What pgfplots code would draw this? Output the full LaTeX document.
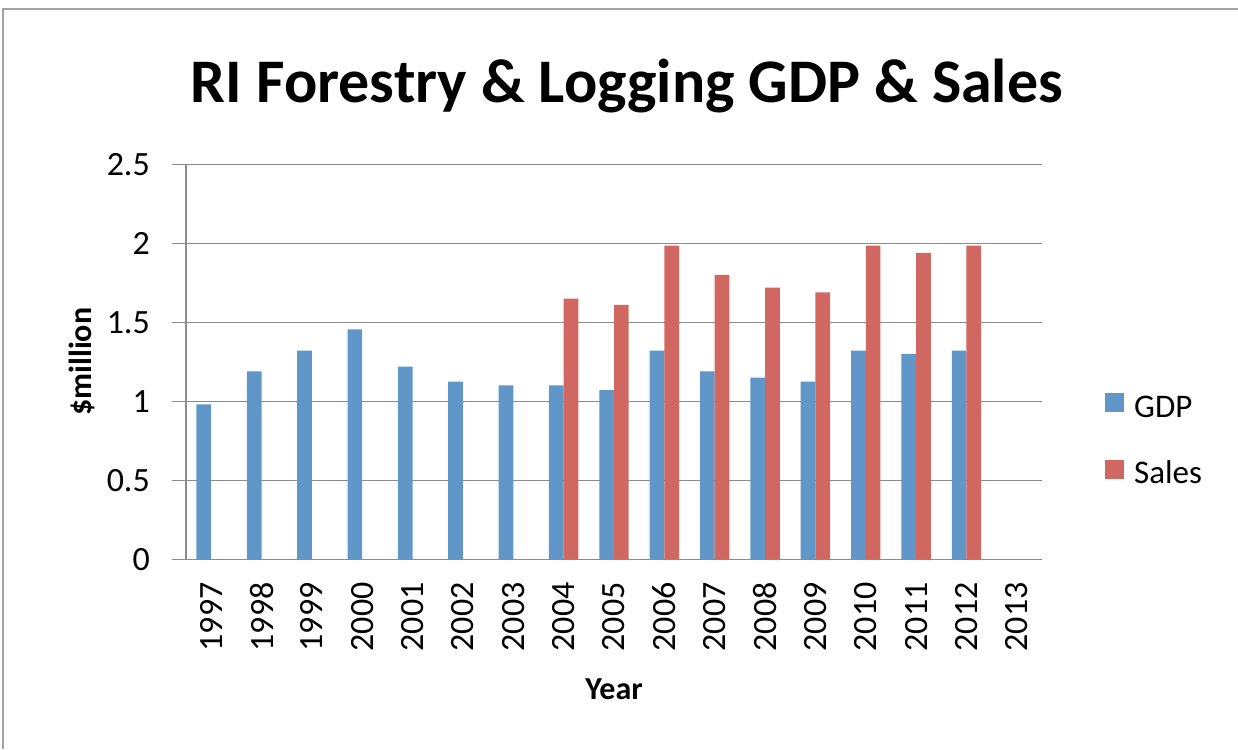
\documentclass[border=0pt]{standalone}
\usepackage{pgfplots}
\pgfplotsset{compat=1.18}
\usepackage{fontspec}
\setmainfont{Carlito}
\definecolor{gdpblue}{RGB}{97,150,201}
\definecolor{salesred}{RGB}{208,103,96}
\definecolor{gridgray}{RGB}{140,140,140}
\begin{document}
\begin{tikzpicture}
\path[use as bounding box] (0pt,0pt) rectangle (1238pt,749pt);
\draw[gridgray!80, line width=1.5pt] (3pt,0pt) -- (3pt,740pt) -- (1238pt,740pt);
\node[anchor=base, font=\fontsize{62}{64}\selectfont\bfseries] at (627pt,646pt) {RI Forestry \& Logging GDP \& Sales};
\begin{axis}[
  at={(186pt,189.7pt)}, anchor=south west,
  scale only axis, width=856pt, height=395pt,
  ybar,
  xmin=-0.5, xmax=16.5, ymin=0, ymax=2.5,
  ytick={0,0.5,1,1.5,2,2.5},
  xtick={0,...,16},
  xticklabels={1997,1998,1999,2000,2001,2002,2003,2004,2005,2006,2007,2008,2009,2010,2011,2012,2013},
  axis x line*=bottom, axis y line*=left,
  axis line style={gridgray, line width=1.5pt, -},
  ymajorgrids, grid style={gridgray, line width=1.5pt},
  tick align=outside, major tick length=14pt,
  x tick style={draw=none},
  y tick style={gridgray, line width=1.5pt},
  /pgf/number format/assume math mode=true,
  yticklabel style={font=\fontsize{34}{36}\selectfont, inner sep=0pt, xshift=-22pt, /pgf/number format/fixed},
  xticklabel style={font=\fontsize{34}{36}\selectfont, yshift=-9pt, rotate=90, anchor=east, inner sep=0pt},
  ylabel={\$million}, ylabel style={font=\fontsize{32}{34}\selectfont\bfseries, at={(axis description cs:-0.1215,0.5)}, anchor=center},
  xlabel={Year}, xlabel style={font=\fontsize{32}{34}\selectfont\bfseries, at={(axis description cs:0.5,-0.329)}, anchor=center},
  legend style={draw=none, fill=none, inner sep=0pt, font=\fontsize{33}{35}\selectfont,
    at={(axis description cs:1.0736,0.421)}, anchor=north west, row sep=42.5pt,
    nodes={inner sep=0pt, text height=22pt, text depth=0pt},
    /tikz/every even column/.append style={column sep=0pt}},
  legend cell align=left,
  legend image code/.code={\fill[#1, draw=none] (0pt,-6pt) rectangle (19pt,13pt); \path (29pt,0pt);},
]
\addplot[fill=gdpblue, draw=none, bar width=0.292, bar shift=-0.146] coordinates {
(0,0.98) (1,1.19) (2,1.32) (3,1.455) (4,1.22) (5,1.125) (6,1.10) (7,1.10) (8,1.07)
(9,1.32) (10,1.19) (11,1.15) (12,1.125) (13,1.32) (14,1.30) (15,1.32)};
\addlegendentry{GDP}
\addplot[fill=salesred, draw=none, bar width=0.292, bar shift=0.146] coordinates {
(7,1.65) (8,1.61) (9,1.985) (10,1.80) (11,1.72) (12,1.69) (13,1.985) (14,1.94) (15,1.985)};
\addlegendentry{Sales}
\end{axis}
\end{tikzpicture}
\end{document}
